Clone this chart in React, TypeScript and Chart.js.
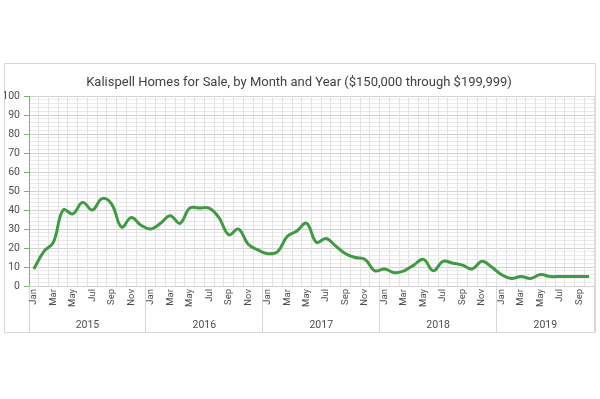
import { useEffect, useRef } from 'react';
import { Chart, registerables } from 'chart.js';

Chart.register(...registerables);

// ---- data ----
const monthNames = ['Jan', 'Feb', 'Mar', 'Apr', 'May', 'Jun', 'Jul', 'Aug', 'Sep', 'Oct', 'Nov', 'Dec'];
const years = ['2015', '2016', '2017', '2018', '2019'];
const homes2015 = [9, 18, 23, 40, 38, 44, 40, 46, 43, 31, 36, 32];
const homes2016 = [30, 33, 37, 33, 41, 41, 41, 36, 27, 30, 22, 19];
const homes2017 = [17, 18, 26, 29, 33, 23, 25, 21, 17, 15, 14, 8];
const homes2018 = [9, 7, 8, 11, 14, 8, 13, 12, 11, 9, 13, 10];
const homes2019 = [6, 4, 5, 4, 6, 5, 5, 5, 5, 5];
const seriesByYear = [homes2015, homes2016, homes2017, homes2018, homes2019];
const yMin = 0;
const yMax = 100;
const yMinorStep = 2;
const yLabelEvery = 10;
const titleText = 'Kalispell Homes for Sale, by Month and Year ($150,000 through $199,999)';

// ---- derived ----
const categories = seriesByYear.flatMap((vals) => vals.map((_, i) => monthNames[i]));
const values = seriesByYear.flat();
const yearBounds: number[] = [];
const yearCenters: number[] = [];
{
  let start = 0;
  seriesByYear.forEach((vals) => {
    yearBounds.push(start - 0.5);
    yearCenters.push(start - 0.5 + vals.length / 2);
    start += vals.length;
  });
  yearBounds.push(start - 0.5);
}
const monthStartIdx = new Set<number>();
{
  let s = 0;
  seriesByYear.forEach((vals) => {
    monthStartIdx.add(s);
    s += vals.length;
  });
}

// ---- styles ----
const FONT = "Roboto, 'Liberation Sans', sans-serif";
const LINE_GREEN = '#3d9b40';
const AXIS_GREEN = '#6cbf6a';
const MAJOR_GRID = '#d2d2d2';
const MINOR_GRID = '#ebebeb';
const V_GRID = '#e2e2e2';
const SEP = '#d6d6d6';
const TEXT = '#4d4d4d';
const CLEAR = 'rgba(0,0,0,0)';

const frame = {
  id: 'frame',
  beforeDraw(chart: any) {
    const { ctx } = chart;
    ctx.save();
    ctx.fillStyle = '#ffffff';
    ctx.fillRect(0, 0, chart.width, chart.height);
    ctx.strokeStyle = '#d9d9d9';
    ctx.lineWidth = 1;
    ctx.strokeRect(4.5, 63.5, 591, 269);
    ctx.restore();
  },
};

export default function App() {
  const ref = useRef<HTMLCanvasElement | null>(null);

  useEffect(() => {
    if (!ref.current) return;
    const chart = new Chart(ref.current, {
      type: 'line',
      data: {
        labels: categories,
        datasets: [
          {
            data: values,
            xAxisID: 'x',
            yAxisID: 'y',
            borderColor: LINE_GREEN,
            backgroundColor: LINE_GREEN,
            borderWidth: 3,
            pointRadius: 0,
            tension: 0.4,
            fill: false,
          },
        ],
      },
      options: {
        responsive: false,
        animation: false,
        events: [],
        layout: { padding: { left: 4, right: 6, top: 64, bottom: 67 } },
        plugins: {
          legend: { display: false },
          tooltip: { enabled: false },
          title: {
            display: true,
            text: titleText,
            color: '#404040',
            font: { family: FONT, size: 13, weight: 'normal' },
            padding: { top: 11, bottom: 5.4 },
          },
        },
        scales: {
          y: {
            type: 'linear',
            position: 'left',
            min: yMin,
            max: yMax,
            afterFit: (s: any) => {
              s.width = 25;
            },
            ticks: {
              stepSize: yMinorStep,
              maxTicksLimit: 100,
              autoSkip: false,
              padding: 4,
              color: TEXT,
              font: { family: FONT, size: 10.5 },
              callback: (v: any) => (Number(v) % yLabelEvery === 0 ? String(v) : ''),
            },
            grid: {
              color: (c: any) => (c.tick && c.tick.value % yLabelEvery === 0 ? MAJOR_GRID : MINOR_GRID),
              tickColor: (c: any) => (c.tick && c.tick.value % yLabelEvery === 0 ? AXIS_GREEN : CLEAR),
              tickLength: 5,
            },
            border: { display: true, color: AXIS_GREEN, width: 1 },
          },
          x: {
            type: 'category',
            position: 'bottom',
            weight: 0,
            offset: true,
            afterFit: (s: any) => {
              s.height = 31;
            },
            ticks: {
              autoSkip: false,
              maxRotation: 90,
              minRotation: 90,
              padding: -28,
              color: TEXT,
              font: { family: FONT, size: 9.5 },
              callback: (_v: any, i: number) => (i % 2 === 0 ? categories[i] : ''),
            },
            grid: {
              offset: true,
              color: V_GRID,
              tickLength: 31,
              tickColor: (c: any) =>
                c.index === undefined || monthStartIdx.has(c.index) ? SEP : CLEAR,
            },
            border: { display: true, color: MAJOR_GRID },
          },
          years: {
            type: 'linear',
            position: 'bottom',
            weight: 1,
            min: yearBounds[0],
            max: yearBounds[yearBounds.length - 1],
            afterFit: (s: any) => {
              s.height = 15;
            },
            afterBuildTicks: (s: any) => {
              s.ticks = [...yearBounds, ...yearCenters].sort((a, b) => a - b).map((v) => ({ value: v }));
            },
            ticks: {
              autoSkip: false,
              maxRotation: 0,
              padding: -13,
              color: TEXT,
              font: { family: FONT, size: 10.5 },
              callback: (v: any) => {
                const k = yearCenters.indexOf(Number(v));
                return k >= 0 ? years[k] : '';
              },
            },
            grid: {
              drawOnChartArea: false,
              tickLength: 15,
              color: CLEAR,
              tickColor: (c: any) =>
                c.tick && yearBounds.indexOf(c.tick.value) >= 0 ? SEP : CLEAR,
            },
            border: { display: false },
          },
        },
      },
      plugins: [frame],
    } as any);
    return () => chart.destroy();
  }, []);

  return (
    <div style={{ position: 'absolute', left: 0, top: 0, width: 600, height: 399, background: '#fff' }}>
      <canvas ref={ref} width={600} height={399} style={{ display: 'block' }} />
    </div>
  );
}
